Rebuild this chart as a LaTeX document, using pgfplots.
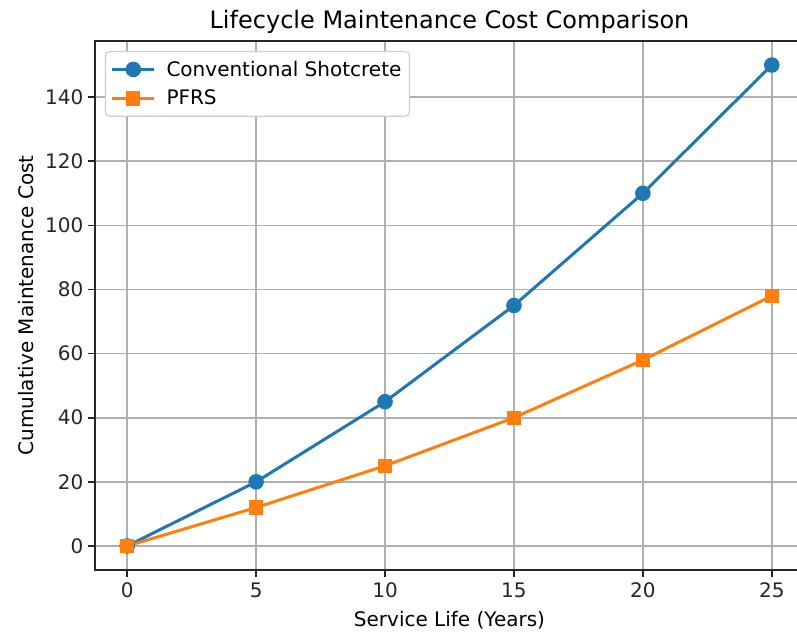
\documentclass[border=0pt]{standalone}
\usepackage{pgfplots}
\pgfplotsset{compat=1.18}
\usepackage{fontspec}
\setmainfont{DejaVu Sans}
\definecolor{cA}{HTML}{1F77B4}
\definecolor{cB}{HTML}{FF7F0E}
\definecolor{gridc}{HTML}{B0B0B0}
\begin{document}
\begin{tikzpicture}
\begin{axis}[
  name=ax,
  scale only axis,
  width=531.75pt, height=396.75pt,
  xmin=-1.25, xmax=26.25,
  ymin=-7.5, ymax=157.5,
  xtick={0,5,10,15,20,25},
  ytick={0,20,40,60,80,100,120,140},
  grid=major,
  major grid style={gridc, line width=1.2pt},
  axis line style={line width=1.2pt, black!85},
  tick style={line width=1.2pt, black!85},
  tick align=outside,
  major tick length=5.25pt,
  xtick pos=bottom, ytick pos=left,
  /pgf/number format/assume math mode=true,
  ticklabel style={font=\fontsize{15}{18}\selectfont, text=black!85},
  xticklabel style={yshift=-1pt},
  title={Lifecycle Maintenance Cost Comparison},
  title style={font=\fontsize{18}{21}\selectfont, yshift=-4pt},
  xlabel={Service Life (Years)},
  ylabel={Cumulative Maintenance Cost},
  label style={font=\fontsize{15}{18}\selectfont},
  xlabel style={yshift=-3pt},
  ylabel style={yshift=2pt},
  legend style={at={(0,1)}, anchor=north west, xshift=7.5pt, yshift=-7.5pt,
    font=\fontsize{15}{18}\selectfont, draw=black!20, rounded corners=3pt,
    line width=0.8pt, inner xsep=4pt, inner ysep=5pt, row sep=5pt,
    fill=white},
  legend cell align=left,
  legend image code/.code={\draw[mark repeat=2,mark phase=2] plot coordinates {(0pt,0pt)(15.75pt,0pt)(31.5pt,0pt)};\path (37.5pt,0pt);},
]
\addplot[cA, line width=2.25pt, mark=*, mark size=4.7pt, mark options={solid, fill=cA, draw=cA}] coordinates {
(0,0) (5,20) (10,45) (15,75) (20,110) (25,150)};
\addlegendentry{Conventional Shotcrete}
\addplot[cB, line width=2.25pt, mark=square*, mark size=4.2pt, mark options={solid, fill=cB, draw=cB}] coordinates {
(0,0) (5,12) (10,25) (15,40) (20,58) (25,78)};
\addlegendentry{PFRS}
\end{axis}
\pgfresetboundingbox
\useasboundingbox ([shift={(-71.25pt,-47.25pt)}]ax.south west) rectangle ([shift={(-5.25pt,30.75pt)}]ax.north east);
\end{tikzpicture}
\end{document}
